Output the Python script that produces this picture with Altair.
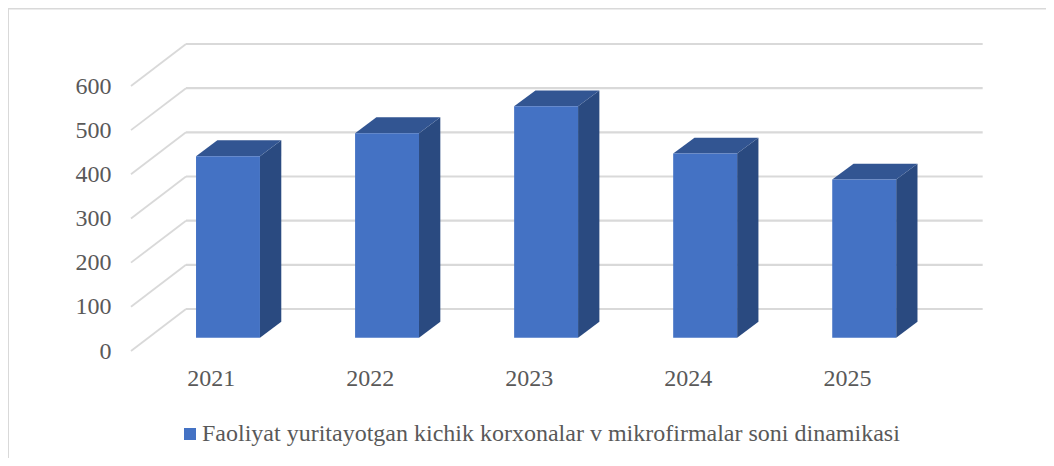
import altair as alt
import pandas as pd

years = [2021, 2022, 2023, 2024, 2025]
values = [411, 463, 524, 417, 358]
ticks = [0, 100, 200, 300, 400, 500, 600]
series = "Faoliyat yuritayotgan kichik korxonalar v mikrofirmalar soni dinamikasi"

W, H = 1038, 450
FONT = "Liberation Serif"
TXT = "#595959"
GRID = "#d9d9d9"
HALF = 0.201        # half bar width, in years
BASE = -65          # bar foot on the wall scale (bars stand in front of the wall)
DX, DY = 0.134, 36  # bar depth
WALL_L, WALL_R = 2020.736, 2025.745
FLOOR_X, FLOOR_Y = 2020.39, -95

xs = alt.Scale(domain=[2021, 2025], range=[220, 856.2], nice=False, zero=False)
ys = alt.Scale(domain=[0, 600], range=[301, 36], nice=False, zero=False)
xaxis = alt.Axis(title=None, values=years, format="d", grid=False, domain=False, ticks=False,
                 labelFont=FONT, labelFontSize=24, labelColor=TXT, labelOffset=-17.3,
                 offset=-92, labelPadding=0, labelBaseline="top", labelFlush=False, labelOverlap=False)
yaxis = alt.Axis(title=None, values=ticks, grid=False, domain=False, ticks=False,
                 labelFont=FONT, labelFontSize=24, labelColor=TXT, labelOffset=42,
                 offset=-103, labelPadding=0, labelFlush=False, labelOverlap=False)


def X(f="x"):
    return alt.X(f"{f}:Q", scale=xs, axis=xaxis)


def Y(f="y"):
    return alt.Y(f"{f}:Q", scale=ys, axis=yaxis)


wall = pd.DataFrame([{"t": t, "x": x, "y": t} for t in ticks for x in (WALL_L, WALL_R)])
floor = pd.DataFrame([{"t": t, "x": x, "y": t + d}
                      for t in ticks for x, d in ((FLOOR_X, FLOOR_Y), (WALL_L, 0))])
front = pd.DataFrame({"x": [y - HALF for y in years], "x2": [y + HALF for y in years],
                      "y": [v + BASE for v in values], "y2": [BASE] * 5, "series": [series] * 5})
side_rows, top_rows = [], []
for yr, v in zip(years, values):
    r, t = yr + HALF, v + BASE
    side_rows += [{"b": yr, "x": r, "y": t, "y2": BASE},
                  {"b": yr, "x": r + DX, "y": t + DY, "y2": BASE + DY}]
    l = yr - HALF
    top_rows += [{"b": yr, "x": l, "y": t, "y2": t},
                 {"b": yr, "x": l + DX, "y": t + DY, "y2": t},
                 {"b": yr, "x": r, "y": t + DY, "y2": t},
                 {"b": yr, "x": r + DX, "y": t + DY, "y2": t + DY}]
side = pd.DataFrame(side_rows)
top = pd.DataFrame(top_rows)

wall_l = alt.Chart(wall).mark_line(color=GRID, strokeWidth=2.2).encode(x=X(), y=Y(), detail="t:N")
floor_l = alt.Chart(floor).mark_line(color=GRID, strokeWidth=1.8).encode(x=X(), y=Y(), detail="t:N")
side_m = alt.Chart(side).mark_area(color="#2a4a80", interpolate="linear").encode(
    x=X(), y=Y(), y2="y2:Q", detail="b:N")
top_m = alt.Chart(top).mark_area(color="#325592", interpolate="linear").encode(
    x=X(), y=Y(), y2="y2:Q", detail="b:N")
front_m = alt.Chart(front).mark_rect().encode(
    x=X(), x2="x2:Q", y=Y(), y2="y2:Q",
    color=alt.Color("series:N", scale=alt.Scale(range=["#4472C4"]),
                    legend=alt.Legend(orient="none", legendX=170, legendY=414, title=None,
                                      symbolType="square", symbolSize=144, symbolStrokeWidth=0,
                                      labelFont=FONT, labelFontSize=24, labelColor=TXT,
                                      labelLimit=900, labelOffset=0)))
border_l = alt.Chart(pd.DataFrame({"a": [0]})).mark_rule(color="#d9d9d9", strokeWidth=2).encode(
    x=alt.value(0), y=alt.value(0), y2=alt.value(H))
border_t = alt.Chart(pd.DataFrame({"a": [0]})).mark_rule(color="#d9d9d9", strokeWidth=2).encode(
    x=alt.value(0), x2=alt.value(W), y=alt.value(0.5))

chart = alt.layer(border_l, border_t, wall_l, floor_l, side_m, top_m, front_m).properties(
    width=W, height=H, padding=0, background="white",
    autosize=alt.AutoSizeParams(type="none"),
).configure_view(stroke=None)

chart.save("out.html", embed_options={"renderer": "svg", "actions": False})
